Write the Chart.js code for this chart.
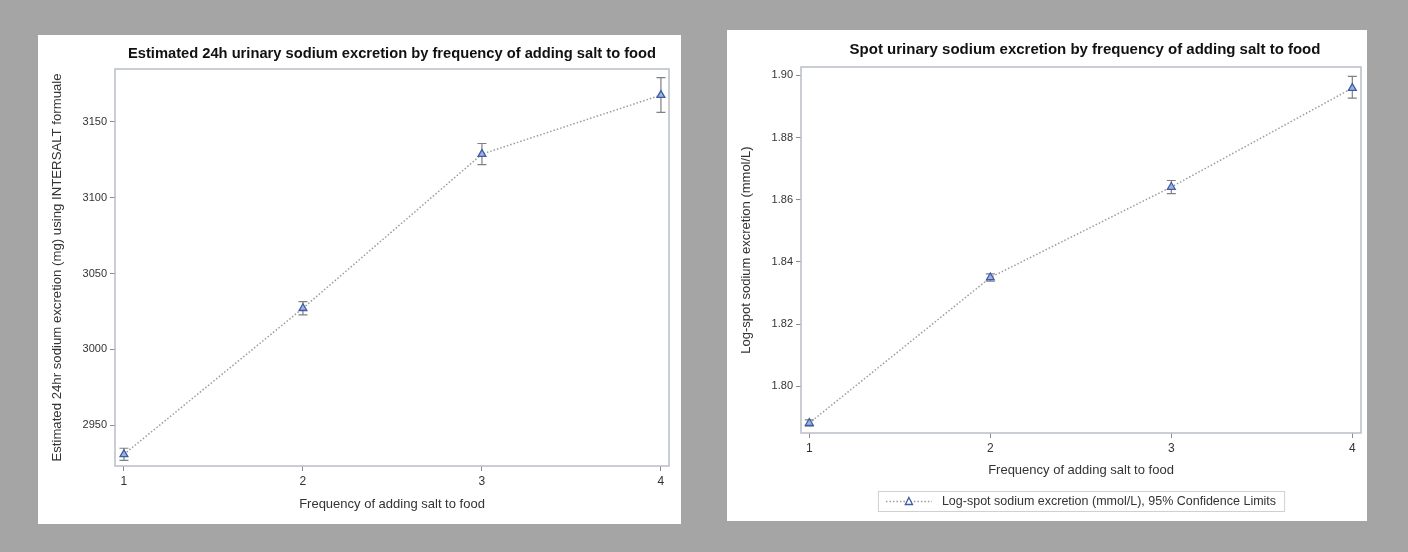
<!DOCTYPE html>
<html>
<head>
<meta charset="utf-8">
<script src="https://cdn.jsdelivr.net/npm/chart.js@4.4.0/dist/chart.umd.min.js"></script>
<style>
  html, body { margin: 0; padding: 0; background: #a5a5a5; width: 1408px; height: 552px; overflow: hidden; }
  .panel { position: absolute; background: #fff; }
  #p1 { left: 38px; top: 35px; width: 643px; height: 489px; }
  #p2 { left: 727px; top: 30px; width: 640px; height: 491px; }
  canvas { display: block; }
</style>
</head>
<body>
<div class="panel" id="p1"><canvas id="chart24h" width="643" height="489"></canvas></div>
<div class="panel" id="p2"><canvas id="chartSpot" width="640" height="491"></canvas></div>
<script>
// frequency of adding salt (x)
const freq = [1, 2, 3, 4];
const xTicks = [1, 2, 3, 4];

// estimated 24h excretion (mg) with 95% CI
const urine24h = [2930.8, 3027.1, 3128.7, 3167.6];
const urine24hLow = [2926.8, 3022.7, 3121.7, 3156.2];
const urine24hHigh = [2934.8, 3031.5, 3135.7, 3179.1];
const yTicks24h = [2950, 3000, 3050, 3100, 3150];

// log spot excretion (mmol/L) with 95% CI
const spotLog = [1.7882, 1.8350, 1.8641, 1.8959];
const spotLow = [1.7872, 1.8338, 1.8620, 1.8927];
const spotHigh = [1.7892, 1.8362, 1.8662, 1.8997];
const yTicksSpot = [1.80, 1.82, 1.84, 1.86, 1.88, 1.90];

const title24h = 'Estimated 24h urinary sodium excretion by frequency of adding salt to food';
const titleSpot = 'Spot urinary sodium excretion by frequency of adding salt to food';
const xTitle = 'Frequency of adding salt to food';
const yTitle24h = 'Estimated 24hr sodium excretion (mg) using INTERSALT formuale';
const yTitleSpot = 'Log-spot sodium excretion (mmol/L)';
const legendText = 'Log-spot sodium excretion (mmol/L), 95% Confidence Limits';

const FONT = "'Liberation Sans', Arial, sans-serif";
const textColor = '#333';
const lineColor = '#9c9c9c';
const markerEdge = '#3d5da8';
const markerFill = '#9fb1dd';

const frame = {
  id: 'frame',
  afterDraw(chart) {
    const { ctx, chartArea: a } = chart;
    ctx.save();
    ctx.strokeStyle = '#b9bfc6';
    ctx.lineWidth = 1.5;
    ctx.strokeRect(a.left, a.top, a.right - a.left, a.bottom - a.top);
    ctx.restore();
  }
};

const plotTitle = {
  id: 'plotTitle',
  afterDraw(chart, args, opts) {
    const { ctx, chartArea: a } = chart;
    ctx.save();
    ctx.font = 'bold ' + opts.size + 'px ' + FONT;
    ctx.fillStyle = '#111';
    ctx.textAlign = 'center';
    ctx.textBaseline = 'middle';
    ctx.fillText(opts.text, (a.left + a.right) / 2 + opts.dx, opts.y);
    ctx.restore();
  }
};

const errorBars = {
  id: 'errorBars',
  beforeDatasetsDraw(chart, args, opts) {
    const { ctx, scales: { x, y } } = chart;
    ctx.save();
    ctx.strokeStyle = '#808080';
    ctx.lineWidth = 1.2;
    opts.low.forEach((lo, i) => {
      const px = x.getPixelForValue(freq[i]);
      const y1 = y.getPixelForValue(lo);
      const y2 = y.getPixelForValue(opts.high[i]);
      ctx.beginPath();
      ctx.moveTo(px, y1); ctx.lineTo(px, y2);
      ctx.moveTo(px - 4.5, y1); ctx.lineTo(px + 4.5, y1);
      ctx.moveTo(px - 4.5, y2); ctx.lineTo(px + 4.5, y2);
      ctx.stroke();
    });
    ctx.restore();
  }
};

const boxLegend = {
  id: 'boxLegend',
  afterDraw(chart, args, opts) {
    if (!opts.text) return;
    const { ctx, chartArea: a } = chart;
    ctx.save();
    ctx.font = '12.5px ' + FONT;
    const tw = ctx.measureText(opts.text).width;
    const w = 8 + 46 + 10 + tw + 8;
    const h = 20;
    const left = (a.left + a.right) / 2 - w / 2;
    const top = opts.y;
    ctx.strokeStyle = '#d0d0d0';
    ctx.lineWidth = 1;
    ctx.strokeRect(left + 0.5, top + 0.5, w, h);
    const cy = top + h / 2 + 0.5;
    ctx.strokeStyle = lineColor;
    ctx.lineWidth = 1.5;
    ctx.setLineDash([1.5, 2]);
    ctx.beginPath();
    ctx.moveTo(left + 8, cy); ctx.lineTo(left + 54, cy);
    ctx.stroke();
    ctx.setLineDash([]);
    const mx = left + 31;
    ctx.beginPath();
    ctx.moveTo(mx, cy - 4); ctx.lineTo(mx + 3.6, cy + 3); ctx.lineTo(mx - 3.6, cy + 3); ctx.closePath();
    ctx.fillStyle = '#fff';
    ctx.fill();
    ctx.strokeStyle = markerEdge;
    ctx.lineWidth = 1.3;
    ctx.stroke();
    ctx.fillStyle = textColor;
    ctx.textBaseline = 'middle';
    ctx.fillText(opts.text, left + 64, cy);
    ctx.restore();
  }
};

function makeChart(id, cfg) {
  const points = freq.map((f, i) => ({ x: f, y: cfg.values[i] }));
  return new Chart(document.getElementById(id), {
    type: 'line',
    data: {
      datasets: [{
        data: points,
        borderColor: lineColor,
        borderWidth: 1.5,
        borderDash: [1.5, 2],
        tension: 0,
        pointStyle: 'triangle',
        pointRadius: 4.5,
        pointBackgroundColor: markerFill,
        pointBorderColor: markerEdge,
        pointBorderWidth: 1.3
      }]
    },
    options: {
      responsive: false,
      animation: false,
      layout: { padding: cfg.padding },
      plugins: {
        legend: { display: false },
        tooltip: { enabled: false },
        plotTitle: { text: cfg.title, y: cfg.titleY, size: cfg.titleSize, dx: cfg.titleDx },
        errorBars: { low: cfg.low, high: cfg.high },
        boxLegend: { text: cfg.legend, y: cfg.legendY }
      },
      scales: {
        x: {
          type: 'linear',
          min: cfg.xMin,
          max: cfg.xMax,
          afterBuildTicks: s => { s.ticks = xTicks.map(v => ({ value: v })); },
          afterFit: s => { s.height = cfg.xHeight; },
          grid: { drawOnChartArea: false, tickLength: 5, tickColor: '#8c8c8c', tickWidth: 1 },
          border: { display: false },
          ticks: { padding: 3, color: textColor, font: { family: FONT, size: 12 }, maxRotation: 0, callback: v => v },
          title: { display: true, text: xTitle, color: textColor, font: { family: FONT, size: 13 }, padding: { top: 0, bottom: cfg.xTitlePad } }
        },
        y: {
          type: 'linear',
          min: cfg.yMin,
          max: cfg.yMax,
          afterBuildTicks: s => { s.ticks = cfg.yTicks.map(v => ({ value: v })); },
          afterFit: s => { s.width = cfg.yWidth; },
          grid: { drawOnChartArea: false, tickLength: 5, tickColor: '#8c8c8c', tickWidth: 1 },
          border: { display: false },
          ticks: { padding: 3, color: textColor, font: { family: FONT, size: 11 }, callback: cfg.fmt },
          title: { display: true, text: cfg.yTitle, color: textColor, font: { family: FONT, size: cfg.yTitleSize }, padding: { top: cfg.yTitlePad, bottom: 0 } }
        }
      }
    },
    plugins: [frame, plotTitle, errorBars, boxLegend]
  });
}

makeChart('chart24h', {
  values: urine24h, low: urine24hLow, high: urine24hHigh,
  title: title24h, titleY: 19, titleSize: 14.7, titleDx: 0,
  yTitle: yTitle24h, yTitleSize: 13.2, yTicks: yTicks24h, fmt: v => v,
  xMin: 0.95, xMax: 4.045, yMin: 2923.1, yMax: 3184.8,
  padding: { left: 0, top: 34, right: 12, bottom: 0 },
  xHeight: 58, yWidth: 77, xTitlePad: 12, yTitlePad: 11
});

makeChart('chartSpot', {
  values: spotLog, low: spotLow, high: spotHigh,
  title: titleSpot, titleY: 20, titleSize: 15, titleDx: 4,
  yTitle: yTitleSpot, yTitleSize: 13, yTicks: yTicksSpot, fmt: v => v.toFixed(2),
  xMin: 0.954, xMax: 4.048, yMin: 1.785, yMax: 1.9027,
  legend: legendText, legendY: 461,
  padding: { left: 0, top: 37, right: 6, bottom: 36 },
  xHeight: 52, yWidth: 74, xTitlePad: 7, yTitlePad: 12
});
</script>
</body>
</html>
